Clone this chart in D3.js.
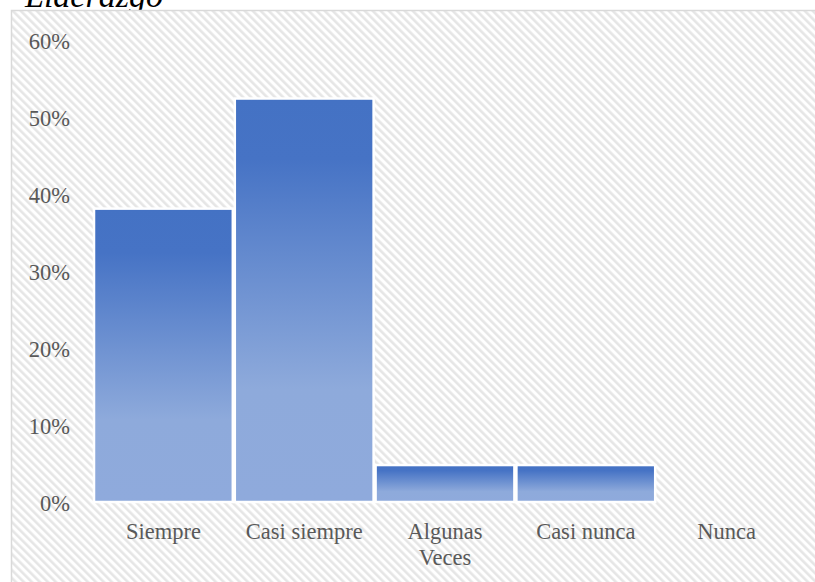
<!DOCTYPE html>
<html>
<head>
<meta charset="utf-8">
<script src="https://cdn.jsdelivr.net/npm/d3@7"></script>
<style>
  html, body { margin: 0; padding: 0; background: #ffffff; }
  svg { display: block; }
</style>
</head>
<body>
<svg id="chart" width="815" height="582"></svg>
<script>
// Survey answers for "Liderazgo" (share of respondents)
const categories = ["Siempre", "Casi siempre", "Algunas Veces", "Casi nunca", "Nunca"];
const shares = [0.381, 0.524, 0.048, 0.048, 0];
const yTicks = [0, 0.1, 0.2, 0.3, 0.4, 0.5, 0.6];
const title = "Liderazgo";

const svg = d3.select("#chart");
const W = 815, H = 582;
const font = "'Liberation Serif', 'Times New Roman', serif";
const textColor = "#595959";
const labelSize = 22.5;

const defs = svg.append("defs");

// Wide downward-diagonal hatch for the chart area
const pat = defs.append("pattern")
  .attr("id", "hatch")
  .attr("patternUnits", "userSpaceOnUse")
  .attr("width", 5.657).attr("height", 5.657)
  .attr("patternTransform", "rotate(-45)");
pat.append("rect").attr("width", 5.657).attr("height", 5.657).attr("fill", "#ffffff");
pat.append("rect").attr("width", 2.6).attr("height", 5.657).attr("fill", "#e6e6e6");

// Vertical blue gradient for the bars
const grad = defs.append("linearGradient")
  .attr("id", "barGrad")
  .attr("x1", 0).attr("y1", 0).attr("x2", 0).attr("y2", 1);
[[0, "#4472c4"], [0.15, "#4673c5"], [0.72, "#8eaadb"], [1, "#8faadc"]].forEach(([o, c]) =>
  grad.append("stop").attr("offset", o).attr("stop-color", c));

// Title sits partly above the visible area
svg.append("text")
  .attr("x", 25).attr("y", 7)
  .attr("font-family", font)
  .attr("font-style", "italic")
  .attr("font-size", 34)
  .attr("fill", "#000000")
  .text(title);

// Chart area with hatch fill and light border
svg.append("rect")
  .attr("x", 11.5).attr("y", 10.5)
  .attr("width", W).attr("height", H)
  .attr("fill", "url(#hatch)")
  .attr("stroke", "#d9d9d9")
  .attr("stroke-width", 1.5);

const x = d3.scaleBand().domain(categories).range([93, 797]).padding(0);
const y = d3.scaleLinear().domain([0, 0.6]).range([502, 40]);

// Bars
svg.append("g").selectAll("rect")
  .data(categories.map((c, i) => ({ c, v: shares[i] })).filter(d => d.v > 0))
  .join("rect")
  .attr("x", d => x(d.c) + 1)
  .attr("width", x.bandwidth() - 2)
  .attr("y", d => y(d.v))
  .attr("height", d => y(0) - y(d.v))
  .attr("fill", "url(#barGrad)")
  .attr("stroke", "#ffffff")
  .attr("stroke-width", 2.5);

// Y axis labels (no line, no tick marks)
const yAxis = d3.axisLeft(y)
  .tickValues(yTicks)
  .tickFormat(d3.format(".0%"))
  .tickSize(0)
  .tickPadding(0);
const gy = svg.append("g").attr("transform", "translate(70,1)").call(yAxis);
gy.select(".domain").remove();
gy.selectAll("text")
  .attr("font-family", font)
  .attr("font-size", labelSize)
  .attr("fill", textColor);

// X axis labels; the long middle one wraps onto two lines
const xAxis = d3.axisBottom(x).tickSize(0).tickPadding(0).tickFormat("");
const gx = svg.append("g").attr("transform", `translate(0,${y(0)})`).call(xAxis);
gx.select(".domain").remove();
gx.selectAll(".tick").each(function (d) {
  const lines = d === "Algunas Veces" ? ["Algunas", "Veces"] : [d];
  const t = d3.select(this).append("text")
    .attr("text-anchor", "middle")
    .attr("font-family", font)
    .attr("font-size", labelSize)
    .attr("fill", textColor);
  lines.forEach((ln, i) => t.append("tspan").attr("x", 0).attr("y", 37 + i * 26).text(ln));
});
</script>
</body>
</html>
